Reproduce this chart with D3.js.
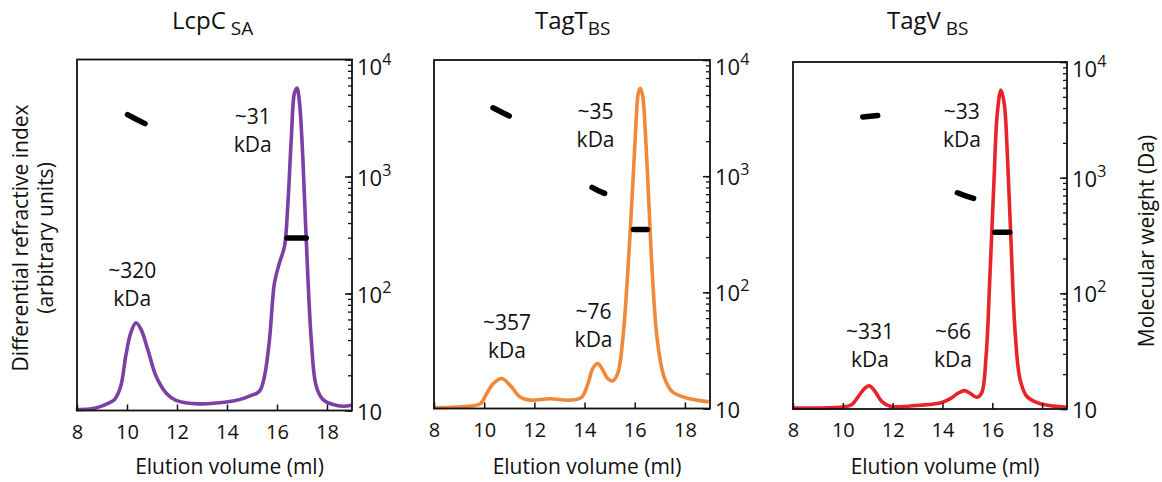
<!DOCTYPE html>
<html>
<head>
<meta charset="utf-8">
<script src="https://cdn.jsdelivr.net/npm/d3@7"></script>
<style>
  body { margin: 0; background: #fff; }
  svg { font-family: "Open Sans", "DejaVu Sans", sans-serif; }
</style>
</head>
<body>
<div id="chart"></div>
<script>
// elution volume (ml) and refractive index (% of full scale)
var volumeLcpC = [7.95, 8.6, 9.29, 9.5, 9.75, 9.95, 10.15, 10.36, 10.56, 10.83, 11.16, 11.56, 11.96, 12.9, 13.97, 14.5, 14.9, 15.3, 15.5, 15.7, 15.9, 16.1, 16.3, 16.43, 16.57, 16.7, 16.8, 16.9, 17.03, 17.17, 17.37, 17.57, 17.84, 18.24, 18.64, 19];
var riLcpC = [0.3, 0.5, 2.2, 3.1, 6.9, 15.5, 22.1, 25.0, 23.1, 17.4, 9.8, 5.0, 2.9, 1.9, 2.4, 3.1, 4.1, 5.5, 9.8, 20.2, 36.4, 42.1, 46.8, 58.2, 77.2, 90.5, 91.9, 87.7, 72.5, 48.7, 20.2, 6.9, 3.1, 1.7, 1.2, 1.5];

var volumeTagT = [7.97, 9.45, 9.85, 10.1, 10.37, 10.7, 11.03, 11.43, 11.82, 12.62, 13.41, 13.88, 14.14, 14.33, 14.53, 14.73, 14.92, 15.12, 15.32, 15.52, 15.72, 15.91, 16.05, 16.14, 16.22, 16.31, 16.44, 16.57, 16.7, 16.9, 17.17, 17.5, 18.03, 18.95];
var riTagT = [0.2, 0.7, 1.4, 4.3, 7.2, 8.6, 6.7, 3.3, 2.4, 2.8, 2.4, 3.2, 7.2, 11.5, 12.9, 11.0, 8.6, 7.9, 10.0, 19.6, 38.8, 62.7, 81.8, 90.4, 91.9, 90.0, 77.0, 57.9, 38.8, 19.6, 9.1, 4.8, 3.1, 1.9];

var volumeTagV = [7.99, 9.89, 10.35, 10.62, 10.89, 11.06, 11.29, 11.56, 11.9, 13.1, 13.9, 14.3, 14.64, 14.88, 15.1, 15.37, 15.57, 15.75, 15.91, 16.07, 16.2, 16.35, 16.48, 16.61, 16.75, 16.92, 17.12, 17.39, 17.93, 19.0];
var riTagV = [0.3, 0.5, 1.2, 3.6, 6.0, 6.7, 5.1, 2.2, 0.8, 1.1, 1.7, 2.9, 4.6, 5.3, 4.6, 3.4, 4.6, 15.1, 39.1, 66.0, 85.1, 91.9, 88.0, 72.7, 48.8, 21.9, 8.4, 3.6, 1.5, 0.5];

// molecular weight segments [volume, Da]
var mwLcpC = [
    [[10.02, 3380], [10.35, 3100], [10.72, 2830]],
    [[16.4, 298], [17.17, 298]]
];
var mwTagT = [
    [[10.35, 3880], [10.7, 3550], [11.0, 3300]],
    [[14.3, 800], [14.55, 750], [14.8, 711]],
    [[15.95, 348], [16.5, 348]]
];
var mwTagV = [
    [[10.8, 3350], [11.1, 3400], [11.4, 3450]],
    [[14.6, 741], [14.9, 700], [15.25, 663]],
    [[16.1, 337], [16.7, 337]]
];

// peak labels [volume, Da position, text]
var labelsLcpC = [[10.21, 159, "~320"], [15.03, 3290, "~31"]];
var labelsTagT = [[10.91, 56, "~357"], [14.36, 69, "~76"], [14.44, 3630, "~35"]];
var labelsTagV = [[11.09, 47, "~331"], [14.42, 47, "~66"], [14.78, 3770, "~33"]];

var titles = [["LcpC", " SA"], ["TagT", "BS"], ["TagV", " BS"]];
var colors = ["#7b3fa6", "#f0883a", "#e8242a"];
var volumeTicks = [8, 10, 12, 14, 16, 18];
var mwMajor = [10, 100, 1000, 10000];

var width = 1162, height = 482;

var svg = d3.select("#chart").append("svg")
    .attr("width", width)
    .attr("height", height);

var panels = [
    {left: 77, right: 352, top: 59.5, bottom: 410.5, titleX: 172, vol: volumeLcpC, ri: riLcpC, mw: mwLcpC, labels: labelsLcpC},
    {left: 434, right: 710, top: 60, bottom: 408.5, titleX: 535, vol: volumeTagT, ri: riTagT, mw: mwTagT, labels: labelsTagT},
    {left: 793, right: 1067, top: 62, bottom: 409, titleX: 887, vol: volumeTagV, ri: riTagV, mw: mwTagV, labels: labelsTagV}
];

panels.forEach(function (p, i) {
    var x = d3.scaleLinear().domain([8, 19]).range([p.left, p.right]);
    var yRI = d3.scaleLinear().domain([0, 100]).range([p.bottom, p.top]);
    var yMW = d3.scaleLog().domain([10, 10000]).range([p.bottom, p.top]);

    var g = svg.append("g").attr("class", "panel");

    // trace
    var line = d3.line()
        .curve(d3.curveCatmullRom.alpha(0.5))
        .x(function (d) { return x(d[0]); })
        .y(function (d) { return yRI(d[1]); });

    g.append("path")
        .datum(d3.zip(p.vol, p.ri))
        .attr("fill", "none")
        .attr("stroke", colors[i])
        .attr("stroke-width", 3.6)
        .attr("stroke-linejoin", "round")
        .attr("d", line);

    // MW segments
    var mwLine = d3.line()
        .x(function (d) { return x(d[0]); })
        .y(function (d) { return yMW(d[1]); });

    g.selectAll(".mw")
        .data(p.mw)
        .enter().append("path")
        .attr("class", "mw")
        .attr("fill", "none")
        .attr("stroke", "#000")
        .attr("stroke-width", 5.5)
        .attr("stroke-linecap", "round")
        .attr("d", mwLine);

    // frame
    g.append("rect")
        .attr("x", p.left)
        .attr("y", p.top)
        .attr("width", p.right - p.left)
        .attr("height", p.bottom - p.top)
        .attr("fill", "none")
        .attr("stroke", "#111")
        .attr("stroke-width", 1.8);

    // bottom axis, ticks inward
    var xAxis = d3.axisBottom(x)
        .tickValues(volumeTicks)
        .tickSizeInner(-6)
        .tickSizeOuter(0)
        .tickPadding(14)
        .tickFormat(d3.format("d"));

    var gx = g.append("g")
        .attr("transform", "translate(0," + p.bottom + ")")
        .call(xAxis);
    gx.select(".domain").remove();
    gx.selectAll("line").attr("stroke", "#111").attr("stroke-width", 1.5);
    gx.selectAll("text")
        .attr("fill", "#111")
        .style("font-size", "20px")
        .style("font-family", "'Open Sans', sans-serif");

    // right log axis: minor and major ticks pointing inside
    var minor = d3.axisRight(yMW)
        .tickValues(yMW.ticks())
        .tickSizeInner(-4)
        .tickSizeOuter(0)
        .tickFormat("");
    var gm = g.append("g")
        .attr("transform", "translate(" + p.right + ",0)")
        .call(minor);
    gm.select(".domain").remove();
    gm.selectAll("line").attr("stroke", "#111").attr("stroke-width", 1.3);

    var major = d3.axisRight(yMW)
        .tickValues(mwMajor)
        .tickSizeInner(-7)
        .tickSizeOuter(0)
        .tickFormat("");
    var gM = g.append("g")
        .attr("transform", "translate(" + p.right + ",0)")
        .call(major);
    gM.select(".domain").remove();
    gM.selectAll("line").attr("stroke", "#111").attr("stroke-width", 1.5);

    var mwText = g.selectAll(".mw-label")
        .data(mwMajor)
        .enter().append("text")
        .attr("class", "mw-label")
        .attr("x", p.right + 5)
        .attr("y", function (d) { return yMW(d) + (d === 10000 ? 15 : 9); })
        .attr("fill", "#111")
        .style("font-size", "22px");
    mwText.append("tspan").text("10");
    mwText.filter(function (d) { return d > 10; })
        .append("tspan")
        .attr("dy", -10)
        .style("font-size", "16px")
        .text(function (d) { return Math.round(Math.log10(d)); });

    // peak labels
    var lab = g.selectAll(".peak-label")
        .data(p.labels)
        .enter().append("text")
        .attr("class", "peak-label")
        .attr("text-anchor", "middle")
        .attr("fill", "#111")
        .style("font-size", "21px")
        .attr("x", function (d) { return x(d[0]); })
        .attr("y", function (d) { return yMW(d[1]) + 8; });
    lab.append("tspan").text(function (d) { return d[2]; });
    lab.append("tspan")
        .attr("x", function (d) { return x(d[0]); })
        .attr("dy", 28)
        .text("kDa");

    // title
    var t = g.append("text")
        .attr("x", p.titleX)
        .attr("y", 29)
        .attr("fill", "#111")
        .style("font-size", "24px");
    t.append("tspan").text(titles[i][0]);
    t.append("tspan")
        .attr("dy", 6)
        .style("font-size", "19px")
        .text(titles[i][1]);

    // x label
    g.append("text")
        .attr("x", (p.left + p.right) / 2 + 15)
        .attr("y", 474)
        .attr("text-anchor", "middle")
        .attr("fill", "#111")
        .style("font-size", "21px")
        .text("Elution volume (ml)");
});

// left axis title
var leftLabel = svg.append("text")
    .attr("transform", "translate(28,238) rotate(-90)")
    .attr("text-anchor", "middle")
    .attr("fill", "#111")
    .style("font-size", "21px");
leftLabel.append("tspan").attr("x", 0).attr("dy", 0).text("Differential refractive index");
leftLabel.append("tspan").attr("x", 0).attr("dy", 25).text("(arbitrary units)");

// right axis title
svg.append("text")
    .attr("transform", "translate(1154,241) rotate(-90)")
    .attr("text-anchor", "middle")
    .attr("fill", "#111")
    .style("font-size", "21px")
    .text("Molecular weight (Da)");
</script>
</body>
</html>
